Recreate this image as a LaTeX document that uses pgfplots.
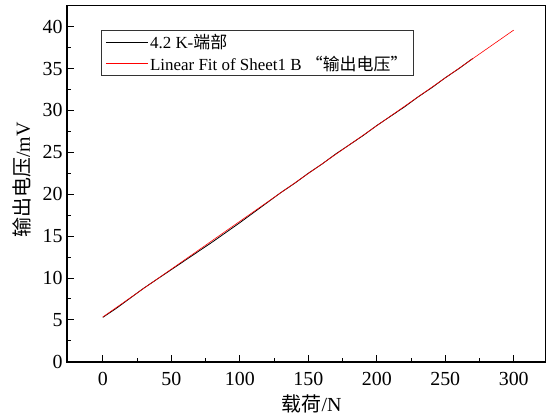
\documentclass[border={13bp 3bp 2bp 5bp}]{standalone}
\usepackage{pgfplots}
\pgfplotsset{compat=1.18}
\usepackage{fontspec}
\setmainfont{Liberation Serif}
\newfontfamily\cjk{Noto Sans CJK SC}
\begin{document}
\begin{tikzpicture}[x=1bp,y=1bp]
\begin{axis}[
  scale only axis,
  width=478bp, height=356bp,
  xmin=-26, xmax=323, ymin=0, ymax=42.5,
  xtick={0,50,...,300}, ytick={0,5,...,40},
  minor xtick={25,75,...,275}, minor ytick={2.5,7.5,...,37.5},
  tick align=inside,
  xtick pos=bottom, ytick pos=left,
  major tick length=7bp, minor tick length=4bp,
  every tick/.style={line width=1bp, black},
  axis line style={line width=1.5bp},
  /pgf/number format/assume math mode=true,
  tick label style={font=\fontsize{20}{22}\selectfont},
  xticklabel style={yshift=-7bp},
  yticklabel style={xshift=-1bp},
  xlabel={\cjk 载荷\rmfamily /N},
  ylabel={\cjk 输出电压\rmfamily /mV},
  label style={font=\fontsize{20}{22}\selectfont, inner sep=0pt},
  xlabel style={at={(axis description cs:0.5115,-0.118)}, anchor=center},
  ylabel style={at={(axis description cs:-0.0941,0.511)}, anchor=center},
  legend style={at={(0.071,0.933)}, anchor=north west, draw=black!80, line width=0.8bp,
    font=\fontsize{17}{19}\selectfont, row sep=2bp, inner xsep=4bp, inner ysep=2bp},
  legend cell align=left,
  legend image code/.code={\draw[#1, line width=0.6bp] (0bp,0bp) -- (42bp,0bp);},
]
\addplot[black, line width=0.8bp] coordinates {
(0,5.3)(10,6.4)(20,7.6)(30,8.8)(40,9.9)(50,11.0)(60,12.1)(70,13.2)(80,14.3)(90,15.45)
(100,16.6)(110,17.8)(120,19.0)(130,20.2)(140,21.3)(150,22.5)(160,23.6)(170,24.8)(180,25.9)
(190,27.0)(200,28.2)(210,29.3)(220,30.4)(230,31.6)(240,32.7)(250,33.9)(260,35.0)(270,36.2)
};
\addlegendentry{4.2 K-{\cjk 端部}}
\addplot[red, line width=0.6bp] coordinates {(0,5.35)(300,39.6)};
\addlegendentry{Linear Fit of Sheet1 B {\cjk “输出电压”}\hspace{8bp}}
\end{axis}
\end{tikzpicture}
\end{document}
